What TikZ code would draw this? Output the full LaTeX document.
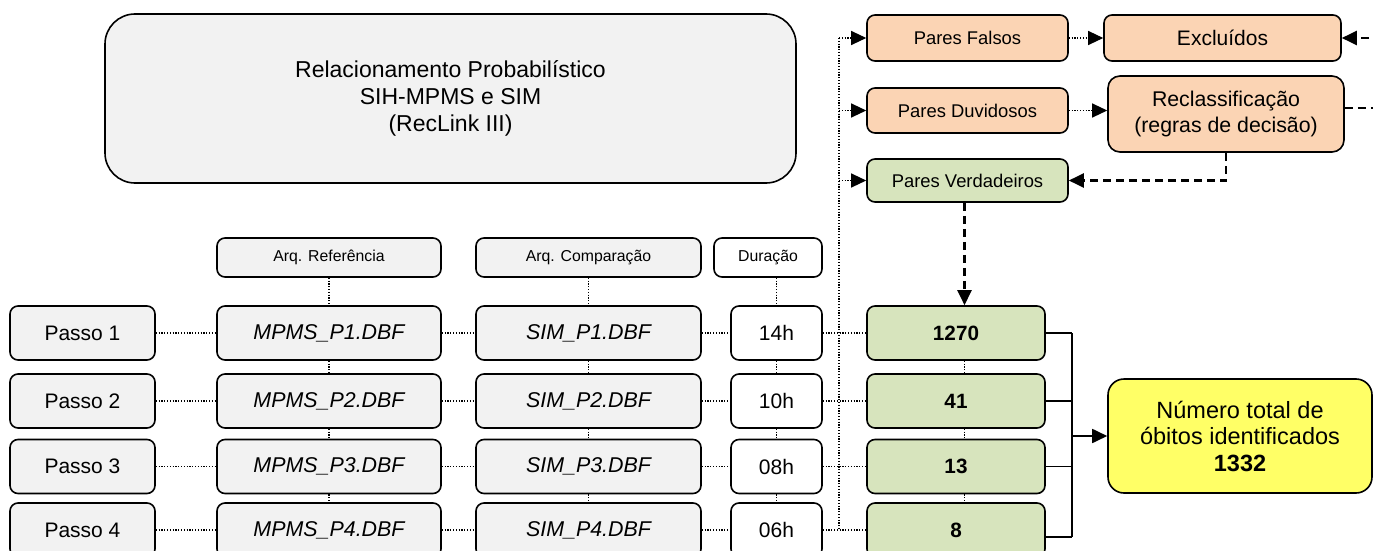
\documentclass[tikz,border=0pt]{standalone}
\usepackage{fontspec}
\setmainfont{Liberation Sans}
\usetikzlibrary{arrows.meta}
\definecolor{boxgray}{HTML}{F2F2F2}
\definecolor{boxorange}{HTML}{FBD4B4}
\definecolor{boxgreen}{HTML}{D7E4BD}
\definecolor{boxyellow}{HTML}{FFFF66}
\tikzset{
  bx/.style={draw=black, line width=1.6pt, rounded corners=8pt, inner sep=0pt, align=center},
  wh/.style 2 args={minimum width=#1pt, minimum height=#2pt},
  graybox/.style={bx, fill=boxgray},
  whitebox/.style={bx, fill=white},
  orangebox/.style={bx, fill=boxorange},
  greenbox/.style={bx, fill=boxgreen},
  hdr/.style={font=\fontsize{15.8}{19}\selectfont},
  txt/.style={font=\fontsize{21}{25}\selectfont},
  itx/.style={font=\fontsize{21.4}{25}\selectfont\itshape},
  btx/.style={font=\fontsize{20.7}{25}\selectfont\bfseries},
  ptx/.style={font=\fontsize{18.4}{22}\selectfont},
  dot/.style={line width=1.2pt, dash pattern=on 1.2pt off 1.6pt},
  dsh/.style={line width=2.2pt, dash pattern=on 8pt off 5pt},
  tip/.style={-{Triangle[length=15pt,width=14pt]}},
  sol/.style={line width=1.8pt}
}
\begin{document}
\begin{tikzpicture}[x=1pt,y=-1pt]
\useasboundingbox (0,0) rectangle (1373,551);
\clip (0,0) rectangle (1373,551);

% title
\node[graybox, wh={691}{169}, rounded corners=30pt, font=\fontsize{23}{27}\selectfont] (title) at (450.5,98.5)
  {Relacionamento Probabilístico\\SIH-MPMS e SIM\\(RecLink III)};

% headers
\node[graybox, hdr, wh={224}{39}] (hr) at (329,257.5) {Arq. Referência};
\node[graybox, hdr, wh={225}{39}] (hc) at (588.5,257.5) {Arq. Comparação};
\node[whitebox, hdr, wh={108}{39}] (hd) at (768,257.5) {Duração};

% rows
\foreach \i/\y/\d/\g in {1/333/14h/1270, 2/401/10h/41, 3/466.5/08h/13, 4/530/06h/8}{
  \node[graybox, txt, wh={145}{54}] (p\i) at (82.5,\y) {Passo \i};
  \node[graybox, itx, wh={224}{54}] (m\i) at (329,\y) {MPMS\_P\i.DBF};
  \node[graybox, itx, wh={225}{54}] (s\i) at (588.5,\y) {SIM\_P\i.DBF};
  \node[whitebox, txt, wh={91}{54}] (d\i) at (776.5,\y) {\d};
  \node[greenbox, btx, wh={178}{54}] (g\i) at (956,\y) {\g};
}

% pairs
\node[orangebox, ptx, wh={201}{46}] (pf) at (967.5,38) {Pares Falsos};
\node[orangebox, font=\fontsize{21}{25}\selectfont, wh={237}{46}] (ex) at (1222.5,38) {Excluídos};
\node[orangebox, ptx, wh={201}{45}] (pd) at (967.5,110.5) {Pares Duvidosos};
\node[orangebox, font=\fontsize{21.3}{26}\selectfont, wh={236}{76}, rounded corners=12pt] (rc) at (1226,114)
  {Reclassificação\\(regras de decisão)};
\node[greenbox, ptx, wh={201}{43}] (pv) at (967.5,180.5) {Pares Verdadeiros};

% total
\node[bx, fill=boxyellow, wh={264}{114}, rounded corners=16pt, font=\fontsize{23.5}{26.5}\selectfont] (tot) at (1240,436)
  {Número total de\\óbitos identificados\\\textbf{1332}};

% helper coordinates
\coordinate (bus) at (839,0);
\coordinate (gx) at (964.5,0);
\coordinate (brk) at (1072,0);
\coordinate (offr) at (1400,0);

% header to first row
\draw[dot] (hr) -- (m1);
\draw[dot] (hc) -- (s1);
\draw[dot] (d1.north |- hd.south) -- (d1.north);

% vertical chains
\foreach \a/\b in {1/2,2/3,3/4}{
  \draw[dot] (m\a) -- (m\b);
  \draw[dot] (s\a) -- (s\b);
  \draw[dot] (d\a) -- (d\b);
  \draw[dot] (g\a.south -| gx) -- (g\b.north -| gx);
}

% horizontal row connectors
\foreach \i in {1,2,3,4}{
  \draw[dot] (p\i) -- (m\i);
  \draw[dot] (m\i) -- (s\i);
  \draw[dot] (s\i) -- (d\i);
  \draw[dot] (d\i) -- (g\i);
}

% bus to pair categories
\draw[dot] (bus |- pf.west) -- (bus |- d4.east);
\draw[dot, tip] (bus |- pf.west) -- (pf.west);
\draw[dot, tip] (bus |- pd.west) -- (pd.west);
\draw[dot, tip] (bus |- pv.west) -- (pv.west);

% pair flows
\draw[dot, tip] (pf) -- (ex);
\draw[dot, tip] (pd.east) -- (pd.east -| rc.west);
\draw[dsh, tip] (rc.south) |- (pv.east);
\draw[dsh, tip] ([yshift=6pt]rc.east) -| (offr |- ex.east) -- (ex.east);
\draw[dsh, tip] (pv.south -| gx) -- (g1.north -| gx);

% bracket to total
\draw[sol] (g1.east) -- (g1.east -| brk);
\draw[sol] (g2.east) -- (g2.east -| brk);
\draw[sol] (g3.east) -- (g3.east -| brk);
\draw[sol] ([yshift=-7pt]g4.east) -- ([yshift=-7pt]g4.east -| brk);
\draw[sol] (g1.east -| brk) -- ([yshift=-7pt]g4.east -| brk);
\draw[sol, tip] (brk |- tot.west) -- (tot.west);
\end{tikzpicture}
\end{document}
